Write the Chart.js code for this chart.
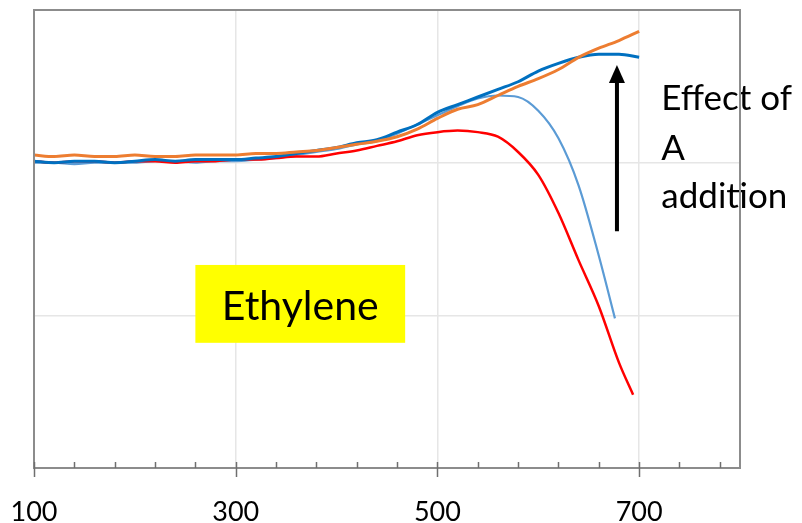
<!DOCTYPE html>
<html>
<head>
<meta charset="utf-8">
<script src="https://cdn.jsdelivr.net/npm/chart.js@4.4.1/dist/chart.umd.min.js"></script>
<style>
  html, body { margin: 0; padding: 0; background: #fff; }
</style>
</head>
<body>
<canvas id="ethylene-chart" width="802" height="523"></canvas>
<script>
// temperatures (x) and signal (y, arbitrary units)
const temps = [100, 120, 140, 160, 180, 200, 220, 240, 260, 280, 300, 320, 340, 360, 380, 400,
  420, 440, 460, 480, 500, 520, 540, 560, 580, 600, 620, 640, 660, 680, 700];
const lightBlueTemps = [100, 120, 140, 160, 180, 200, 220, 240, 260, 280, 300, 320, 340, 360, 380, 400,
  420, 440, 460, 480, 500, 520, 540, 560, 580, 600, 620, 640, 660, 676];
const redTemps = [100, 120, 140, 160, 180, 200, 220, 240, 260, 280, 300, 320, 340, 360, 380, 400,
  420, 440, 460, 480, 500, 520, 540, 560, 580, 600, 620, 640, 660, 680, 694];

const orangeVals = [2.05, 2.04, 2.05, 2.04, 2.04, 2.05, 2.04, 2.04, 2.05, 2.05, 2.05, 2.06, 2.06, 2.07, 2.08, 2.10,
  2.12, 2.14, 2.17, 2.22, 2.29, 2.35, 2.38, 2.44, 2.50, 2.55, 2.61, 2.69, 2.75, 2.80, 2.86];
const darkBlueVals = [2.01, 2.00, 2.01, 2.01, 2.00, 2.01, 2.02, 2.01, 2.02, 2.02, 2.02, 2.03, 2.04, 2.06, 2.08, 2.10,
  2.13, 2.15, 2.20, 2.25, 2.33, 2.38, 2.43, 2.48, 2.53, 2.60, 2.65, 2.69, 2.71, 2.71, 2.69];
const lightBlueVals = [2.00, 2.00, 1.99, 2.00, 2.00, 2.00, 2.01, 2.01, 2.00, 2.01, 2.01, 2.02, 2.03, 2.05, 2.07, 2.09,
  2.12, 2.14, 2.19, 2.25, 2.31, 2.37, 2.42, 2.44, 2.43, 2.34, 2.16, 1.85, 1.39, 0.98];
const redVals = [2.01, 2.00, 2.01, 2.01, 2.00, 2.01, 2.01, 2.00, 2.01, 2.01, 2.02, 2.02, 2.03, 2.04, 2.04, 2.06,
  2.08, 2.11, 2.14, 2.18, 2.20, 2.21, 2.20, 2.17, 2.07, 1.92, 1.67, 1.36, 1.06, 0.69, 0.48];

const xTickValues = [100, 140, 180, 220, 260, 300, 340, 380, 420, 460, 500, 540, 580, 620, 660, 700, 740, 780];
const xLabels = [100, 300, 500, 700];

const toPoints = (xs, ys) => xs.map((x, i) => ({ x: x, y: ys[i] }));

const FONT = "Lato";

// text box, arrow and note, placed in data units
const annotate = {
  id: "annotate",
  afterDatasetsDraw(chart) {
    const { ctx, scales: { x, y } } = chart;
    ctx.save();

    // yellow "Ethylene" box
    const bx1 = x.getPixelForValue(260), bx2 = x.getPixelForValue(468);
    const by1 = y.getPixelForValue(1.33), by2 = y.getPixelForValue(0.82);
    ctx.fillStyle = "#ffff00";
    ctx.fillRect(bx1, by1, bx2 - bx1, by2 - by1);
    ctx.fillStyle = "#000";
    ctx.font = "41px " + FONT;
    ctx.textAlign = "center";
    ctx.textBaseline = "alphabetic";
    ctx.fillText("Ethylene", (bx1 + bx2) / 2, y.getPixelForValue(0.97));

    // arrow
    const ax = x.getPixelForValue(678);
    const aTop = y.getPixelForValue(2.64), aBot = y.getPixelForValue(1.55);
    ctx.strokeStyle = "#000";
    ctx.lineWidth = 4;
    ctx.beginPath();
    ctx.moveTo(ax, aBot);
    ctx.lineTo(ax, aTop + 14);
    ctx.stroke();
    ctx.beginPath();
    ctx.moveTo(ax, aTop);
    ctx.lineTo(ax - 8, aTop + 18);
    ctx.lineTo(ax + 8, aTop + 18);
    ctx.closePath();
    ctx.fill();

    // note
    ctx.font = "35px " + FONT;
    ctx.textAlign = "left";
    const tx = x.getPixelForValue(722);
    ctx.fillText("Effect of", tx, y.getPixelForValue(2.345));
    ctx.fillText("A", tx, y.getPixelForValue(2.017));
    ctx.fillText("addition", tx, y.getPixelForValue(1.703));
    ctx.restore();
  },
  afterDraw(chart) {
    const { ctx, chartArea: a, scales: { x } } = chart;
    ctx.save();
    ctx.strokeStyle = "#8c8c8c";
    ctx.lineWidth = 2;
    ctx.strokeRect(a.left, a.top, a.right - a.left, a.bottom - a.top);
    ctx.strokeStyle = "#6f6f6f";
    ctx.lineWidth = 1.5;
    ctx.beginPath();
    xTickValues.forEach((v) => {
      const px = Math.round(x.getPixelForValue(v)) + 0.5;
      const major = xLabels.includes(v);
      ctx.moveTo(px, a.bottom - 6);
      ctx.lineTo(px, major ? a.bottom + 9 : a.bottom);
    });
    ctx.stroke();
    ctx.restore();
  }
};

const ctx = document.getElementById("ethylene-chart").getContext("2d");
const chart = new Chart(ctx, {
  type: "scatter",
  data: {
    datasets: [
      { label: "orange", data: toPoints(temps, orangeVals), borderColor: "#ed7d31", borderWidth: 3 },
      { label: "dark blue", data: toPoints(temps, darkBlueVals), borderColor: "#0070c0", borderWidth: 3 },
      { label: "red", data: toPoints(redTemps, redVals), borderColor: "#ff0000", borderWidth: 2.5 },
      { label: "light blue", data: toPoints(lightBlueTemps, lightBlueVals), borderColor: "#5b9bd5", borderWidth: 2.2 },
    ].map((d) => Object.assign(d, { showLine: true, pointRadius: 0, cubicInterpolationMode: "monotone", fill: false })),
  },
  options: {
    responsive: false,
    animation: false,
    layout: { padding: { left: 34, right: 62, top: 10, bottom: 0 } },
    plugins: { legend: { display: false }, tooltip: { enabled: false } },
    scales: {
      x: {
        type: "linear",
        min: 100,
        max: 800,
        afterBuildTicks: (scale) => { scale.ticks = xTickValues.map((v) => ({ value: v })); },
        afterFit: (scale) => { scale.height = 55; scale.paddingLeft = 0; scale.paddingRight = 0; },
        grid: {
          drawTicks: false,
          lineWidth: 1.5,
          color: (c) => (c.tick && xLabels.includes(c.tick.value) ? "#e6e6e6" : "rgba(0,0,0,0)"),
        },
        border: { display: false },
        ticks: {
          autoSkip: false,
          maxRotation: 0,
          padding: 31,
          color: "#000",
          font: { family: FONT, size: 27, lineHeight: 1 },
          callback: (v) => (xLabels.includes(v) ? String(v) : ""),
        },
      },
      y: {
        min: 0,
        max: 3,
        afterFit: (scale) => { scale.width = 0; },
        ticks: { display: false, stepSize: 1 },
        grid: { drawTicks: false, color: "#e6e6e6", lineWidth: 1.5 },
        border: { display: false },
      },
    },
  },
  plugins: [annotate],
});
</script>
</body>
</html>
